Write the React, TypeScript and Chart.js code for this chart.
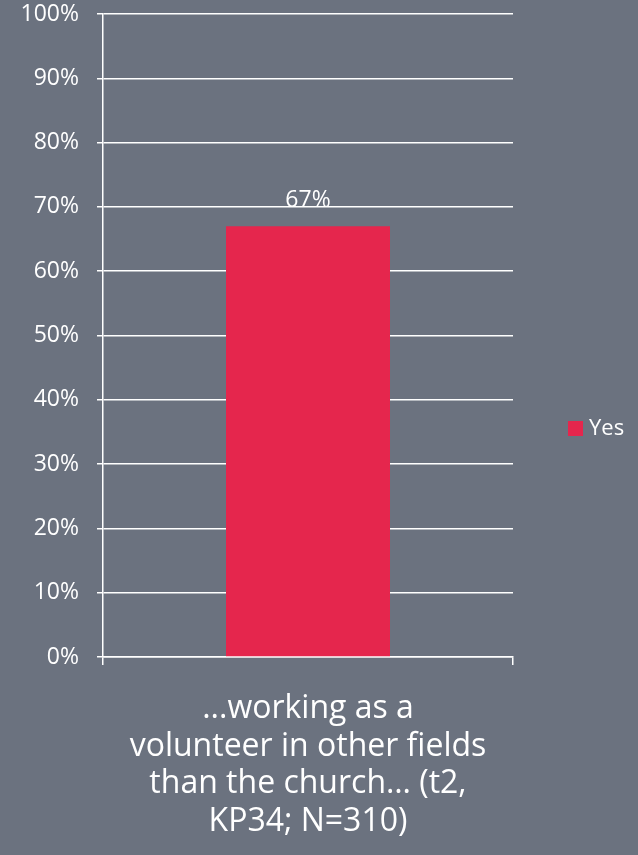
import React, { useEffect, useRef } from "react";
import { Chart, registerables } from "chart.js";

Chart.register(...registerables);

const categories: string[][] = [["...working as a", "volunteer in other fields", "than the church… (t2,", "KP34; N=310)"]];
const seriesName = "Yes";
const yesValues: number[] = [67];
const yTicks: number[] = [0, 10, 20, 30, 40, 50, 60, 70, 80, 90, 100];

const BG = "#6b727f";
const BAR = "#e5264d";
const TEXT = "#ffffff";
const FONT = "'Open Sans', sans-serif";

const valueLabelPlugin = {
  id: "valueLabels",
  afterDatasetsDraw(chart: any) {
    const ctx = chart.ctx;
    const meta = chart.getDatasetMeta(0);
    ctx.save();
    ctx.font = `23px ${FONT}`;
    ctx.fillStyle = TEXT;
    ctx.textAlign = "center";
    ctx.textBaseline = "alphabetic";
    meta.data.forEach((bar: any, i: number) => {
      const v = chart.data.datasets[0].data[i];
      ctx.fillText(`${v}%`, bar.x, bar.y - 19);
    });
    ctx.restore();
  },
};

const sideLegendPlugin = {
  id: "sideLegend",
  afterDraw(chart: any) {
    const ctx = chart.ctx;
    const ds = chart.data.datasets[0];
    const cy = chart.height / 2 + 1;
    const x = 568;
    ctx.save();
    ctx.fillStyle = ds.backgroundColor;
    ctx.fillRect(x, cy - 7.5, 15, 15);
    ctx.font = `22px ${FONT}`;
    ctx.fillStyle = TEXT;
    ctx.textAlign = "left";
    ctx.textBaseline = "middle";
    ctx.fillText(ds.label, x + 21, cy);
    ctx.restore();
  },
};

export default function App() {
  const ref = useRef<HTMLCanvasElement | null>(null);
  useEffect(() => {
    document.body.style.margin = "0";
    const chart = new Chart(ref.current as HTMLCanvasElement, {
      type: "bar",
      data: {
        labels: categories as any,
        datasets: [
          {
            label: seriesName,
            data: yesValues,
            backgroundColor: BAR,
            borderWidth: 0,
            barPercentage: 0.5,
            categoryPercentage: 0.8,
          },
        ],
      },
      options: {
        animation: false,
        responsive: false,
        maintainAspectRatio: false,
        layout: { padding: { top: 14, right: 125, left: 0, bottom: 0 } },
        plugins: {
          legend: { display: false },
          tooltip: { enabled: false },
        },
        scales: {
          x: {
            grid: {
              display: true,
              offset: true,
              drawOnChartArea: false,
              drawTicks: true,
              tickLength: 8,
              color: "#ffffff",
              lineWidth: 1.5,
            },
            border: { display: true, color: "#ffffff", width: 1.5 },
            ticks: {
              color: TEXT,
              font: { family: FONT, size: 32, lineHeight: 1.175 },
              padding: 25,
              maxRotation: 0,
              minRotation: 0,
              autoSkip: false,
            },
            afterFit(scale: any) {
              scale.height = 855 - 657;
              scale.paddingLeft = 0;
              scale.paddingRight = 0;
            },
          },
          y: {
            min: 0,
            max: 100,
            afterBuildTicks(scale: any) {
              scale.ticks = yTicks.map((v) => ({ value: v }));
            },
            grid: {
              color: "#ffffff",
              lineWidth: 1.5,
              tickLength: 6,
              drawTicks: true,
            },
            border: { display: true, color: "#ffffff", width: 1.5 },
            ticks: {
              color: TEXT,
              font: { family: FONT, size: 23 },
              padding: 18,
              callback: (v: any) => `${v}%`,
            },
            afterFit(scale: any) {
              scale.width = 103;
              scale.paddingTop = 0;
              scale.paddingBottom = 0;
            },
          },
        },
      },
      plugins: [valueLabelPlugin, sideLegendPlugin],
    });
    return () => chart.destroy();
  }, []);
  return (
    <div style={{ width: 638, height: 855, background: BG, position: "relative" }}>
      <canvas ref={ref} width={638} height={855} style={{ display: "block", width: 638, height: 855 }} />
    </div>
  );
}
